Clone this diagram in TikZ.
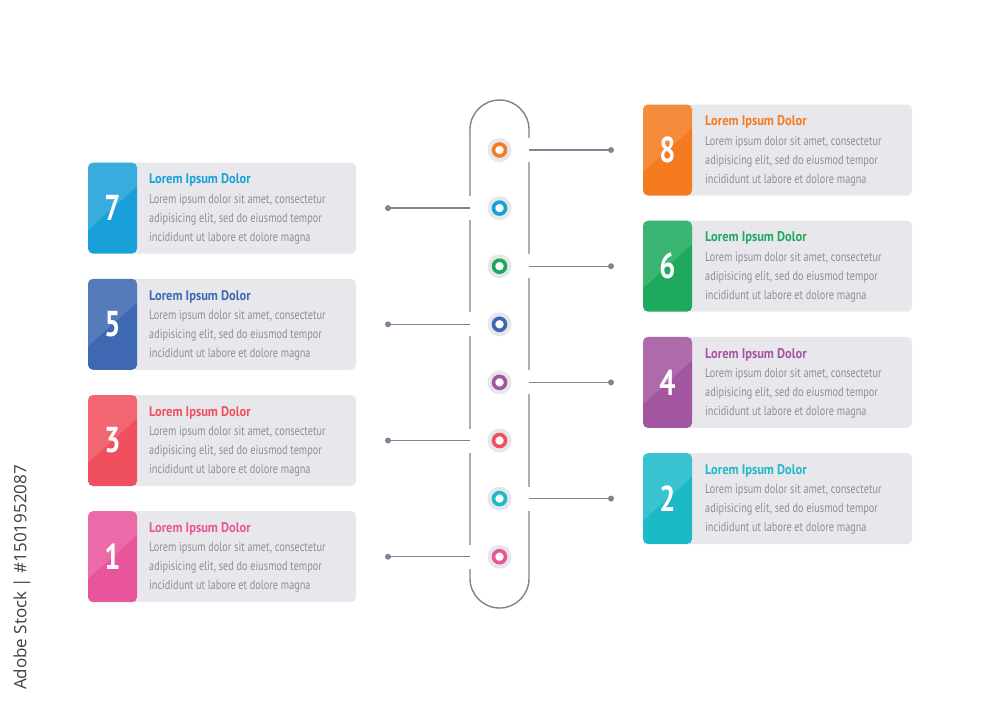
\documentclass[tikz,border=0pt]{standalone}
\usepackage{fontspec}
\newfontfamily\cond[FakeStretch=0.79]{PT Sans}
\newfontfamily\condT[FakeStretch=0.89]{PT Sans}
\newfontfamily\wmfont{Open Sans}
\definecolor{c8}{HTML}{F47B20}
\definecolor{c7}{HTML}{1AA0D8}
\definecolor{c6}{HTML}{1DAA5E}
\definecolor{c5}{HTML}{3E68B2}
\definecolor{c4}{HTML}{A3559F}
\definecolor{c3}{HTML}{F0505E}
\definecolor{c2}{HTML}{1CB9C8}
\definecolor{c1}{HTML}{E8559B}
\definecolor{cardbg}{HTML}{E8E8EC}
\definecolor{bodygray}{HTML}{8A8F99}
\definecolor{linegray}{HTML}{7A8596}
\definecolor{halo}{HTML}{E6E7EB}
\tikzset{
  cardbox/.style={fill=cardbg, rounded corners=5pt},
  tabbox/.style={rounded corners=5pt, minimum width=49pt, minimum height=91pt, inner sep=0pt},
  numtext/.style={text=white, font=\cond\bfseries\fontsize{36}{36}\selectfont, inner sep=0pt},
  titletext/.style={font=\condT\bfseries\fontsize{14}{16}\selectfont, inner sep=0pt, anchor=base west},
  bodytext/.style={text=bodygray, font=\cond\fontsize{13}{15}\selectfont, inner sep=0pt, anchor=base west},
  conn/.style={draw=linegray, line width=1.4pt},
  enddot/.style={circle, fill=linegray, minimum size=6pt, inner sep=0pt},
  halodot/.style={circle, fill=halo, minimum size=24pt, inner sep=0pt},
  ringdot/.style={circle, draw=#1, line width=3.6pt, fill=white, minimum size=12pt, inner sep=0pt},
}
\begin{document}
\begin{tikzpicture}[x=1pt,y=-1pt]
\useasboundingbox (0,0) rectangle (1000,709);
\fill[white] (0,0) rectangle (1000,709);

% pill
\draw[linegray, line width=1.4pt] (470,129.5) arc[start angle=180, end angle=360, radius=29.5] -- (529,578.5) arc[start angle=0, end angle=180, radius=29.5] -- cycle;

% circles
\foreach \n/\c in {8/c8,7/c7,6/c6,5/c5,4/c4,3/c3,2/c2,1/c1}{
  \pgfmathsetmacro\cy{150+58.1*(8-\n)}
  \node[halodot] (halo\n) at (499.5,\cy) {};
  \node[ringdot=\c] (ring\n) at (499.5,\cy) {};
}

% left cards
\foreach \n/\c in {7/c7,5/c5,3/c3,1/c1}{
  \pgfmathsetmacro\cy{150+58.1*(8-\n)}
  \fill[cardbox] (130,\cy-45.5) rectangle (356,\cy+45.5);
  \node[tabbox, fill=\c] (tab\n) at (112.5,\cy) {};
  \begin{scope}
    \clip[rounded corners=5pt] (88,\cy-45.5) rectangle (137,\cy+45.5);
    \fill[white, opacity=0.13] (88,\cy-45.5) -- (137,\cy-45.5) -- (137,\cy-22) -- (88,\cy+22) -- cycle;
  \end{scope}
  \node[numtext] (num\n) at (112.5,\cy) {\n};
  \node[titletext, text=\c] (title\n) at (149,\cy-24.3) {Lorem Ipsum Dolor};
  \node[bodytext] (bodyA\n) at (149,\cy-4.8) {Lorem ipsum dolor sit amet, consectetur};
  \node[bodytext] (bodyB\n) at (149,\cy+14.2) {adipisicing elit, sed do eiusmod tempor};
  \node[bodytext] (bodyC\n) at (149,\cy+33.2) {incididunt ut labore et dolore magna};
  \fill[white] (468,\cy-12) rectangle (472,\cy+12);
  \node[enddot] (dot\n) at (388,\cy) {};
  \coordinate (edge\n) at (470,\cy);
  \draw[conn] (edge\n) -- (dot\n.center);
}

% right cards
\foreach \n/\c in {8/c8,6/c6,4/c4,2/c2}{
  \pgfmathsetmacro\cy{150+58.1*(8-\n)}
  \fill[cardbox] (685,\cy-45.5) rectangle (912,\cy+45.5);
  \node[tabbox, fill=\c] (tab\n) at (667.5,\cy) {};
  \begin{scope}
    \clip[rounded corners=5pt] (643,\cy-45.5) rectangle (692,\cy+45.5);
    \fill[white, opacity=0.13] (643,\cy-45.5) -- (692,\cy-45.5) -- (692,\cy-22) -- (643,\cy+22) -- cycle;
  \end{scope}
  \node[numtext] (num\n) at (667.5,\cy) {\n};
  \node[titletext, text=\c] (title\n) at (705,\cy-24.3) {Lorem Ipsum Dolor};
  \node[bodytext] (bodyA\n) at (705,\cy-4.8) {Lorem ipsum dolor sit amet, consectetur};
  \node[bodytext] (bodyB\n) at (705,\cy+14.2) {adipisicing elit, sed do eiusmod tempor};
  \node[bodytext] (bodyC\n) at (705,\cy+33.2) {incididunt ut labore et dolore magna};
  \fill[white] (527,\cy-12) rectangle (531,\cy+12);
  \node[enddot] (dot\n) at (611,\cy) {};
  \coordinate (edge\n) at (529,\cy);
  \draw[conn] (edge\n) -- (dot\n.center);
}

% watermark caption
\node[rotate=90, text=black!75, font=\wmfont\fontsize{17}{18}\selectfont, inner sep=0pt] (wm) at (22,577.5) {Adobe Stock | \#1501952087};
\end{tikzpicture}
\end{document}
